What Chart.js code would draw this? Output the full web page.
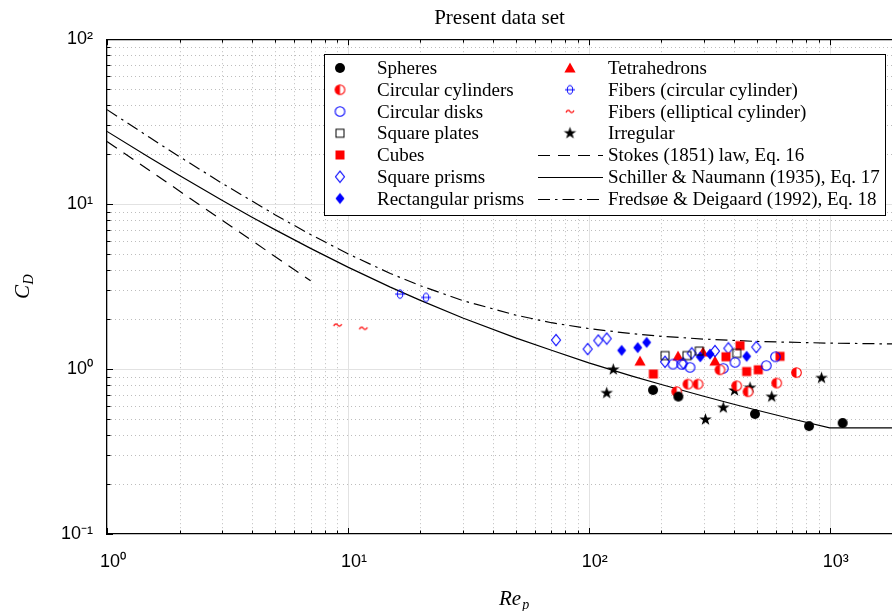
<!DOCTYPE html>
<html><head><meta charset="utf-8">
<script src="https://cdn.jsdelivr.net/npm/chart.js@4.4.0/dist/chart.umd.min.js"></script>
<style>html,body{margin:0;padding:0;background:#fff}#wrap{width:892px;height:611px;position:relative}</style>
</head><body><div id="wrap"><canvas id="c" width="892" height="611"></canvas></div>
<script>
// ---------- data ----------
const seriesNames = ['Spheres','Circular cylinders','Circular disks','Square plates','Cubes','Square prisms','Rectangular prisms',
  'Tetrahedrons','Fibers (circular cylinder)','Fibers (elliptical cylinder)','Irregular',
  'Stokes (1851) law, Eq. 16','Schiller & Naumann (1935), Eq. 17','Fredsøe & Deigaard (1992), Eq. 18'];

const spheresRe = [184.8, 235.3, 489.7, 820.7, 1132];
const spheresCD = [0.746, 0.681, 0.534, 0.451, 0.471];

const cylindersRe = [231.7, 258.1, 284.0, 350.4, 411.2, 458.1, 602.6, 728.1];
const cylindersCD = [0.731, 0.811, 0.811, 0.99, 0.792, 0.729, 0.823, 0.952];

const disksRe = [223.6, 243.0, 263.1, 361.6, 404.5, 545.6, 595.7];
const disksCD = [1.072, 1.068, 1.024, 1.01, 1.098, 1.05, 1.187];

const platesRe = [207.2, 255.6, 287.5, 411.2];
const platesCD = [1.207, 1.207, 1.285, 1.245];

const cubesRe = [185.3, 371.1, 424.3, 452.2, 505.3, 621.9];
const cubesCD = [0.933, 1.187, 1.388, 0.966, 0.99, 1.194];

const sqPrismsRe = [73.1, 98.9, 109.5, 118.7, 207.2, 246.8, 267.4, 334.1, 379.5, 495.8];
const sqPrismsCD = [1.499, 1.322, 1.489, 1.530, 1.107, 1.083, 1.245, 1.285, 1.335, 1.359];

const rectPrismsRe = [136.9, 159.6, 173.9, 290.3, 318.6, 452.2];
const rectPrismsCD = [1.298, 1.350, 1.451, 1.187, 1.233, 1.194];

const tetraRe = [163.2, 234.6, 297.9, 334.1];
const tetraCD = [1.118, 1.199, 1.268, 1.118];

const fibCircRe = [16.46, 21.10];
const fibCircCD = [2.848, 2.720];

const fibEllRe = [9.07, 11.59];
const fibEllCD = [1.848, 1.765];

const irregRe = [118.7, 126.4, 305.1, 361.6, 402.6, 466.9, 574.4, 924.7];
const irregCD = [0.715, 0.993, 0.494, 0.583, 0.741, 0.770, 0.679, 0.882];

const stokesRe = [1, 7];
const stokesCD = [24, 3.43];

const schillerRe = [1, 1.5, 2, 3, 4, 5, 7, 10, 15, 20, 30, 50, 70, 100, 150, 200, 300, 400, 500, 700, 1000, 1814];
const schillerCD = [27.6, 19.17, 14.9, 10.55, 8.33, 6.98, 5.39, 4.15, 3.14, 2.61, 2.04, 1.54, 1.30, 1.09, 0.91, 0.806, 0.684, 0.612, 0.563, 0.498, 0.44, 0.44];

const fredsoeRe = [1, 1.5, 2, 3, 5, 7, 10, 15, 20, 30, 50, 70, 100, 150, 200, 300, 500, 1000, 1814];
const fredsoeCD = [37.4, 25.4, 19.4, 13.4, 8.6, 6.54, 5.0, 3.8, 3.2, 2.6, 2.12, 1.91, 1.76, 1.64, 1.58, 1.52, 1.47, 1.436, 1.42];

const xTickValues = [1, 10, 100, 1000];
const yTickValues = [0.1, 1, 10, 100];

// ---------- marker images ----------
const RED = '#ff0000', BLUE = '#0000ff', BLACK = '#000000';
function mk(w, h, draw) {
  const c = document.createElement('canvas'); c.width = w; c.height = h;
  const g = c.getContext('2d'); draw(g, w / 2, h / 2); return c;
}
const mSphere = mk(12, 12, (g, cx, cy) => { g.beginPath(); g.arc(cx, cy, 5, 0, 2 * Math.PI); g.fillStyle = BLACK; g.fill(); });
const mHalf = mk(13, 13, (g, cx, cy) => {
  g.beginPath(); g.arc(cx, cy, 4.8, 0, 2 * Math.PI); g.fillStyle = '#fff'; g.fill();
  g.beginPath(); g.arc(cx, cy, 4.8, Math.PI / 2, Math.PI * 1.5); g.closePath(); g.fillStyle = RED; g.fill();
  g.beginPath(); g.arc(cx, cy, 4.8, 0, 2 * Math.PI); g.strokeStyle = RED; g.lineWidth = 1.1; g.stroke();
});
const mDisk = mk(13, 13, (g, cx, cy) => { g.beginPath(); g.arc(cx, cy, 4.8, 0, 2 * Math.PI); g.strokeStyle = BLUE; g.lineWidth = 1.1; g.stroke(); });
const mPlate = mk(12, 12, (g, cx, cy) => { g.strokeStyle = BLACK; g.lineWidth = 1; g.strokeRect(cx - 4, cy - 4, 8, 8); });
const mCube = mk(12, 12, (g, cx, cy) => { g.fillStyle = RED; g.fillRect(cx - 4.5, cy - 4.5, 9, 9); });
function diamond(g, cx, cy) { g.beginPath(); g.moveTo(cx, cy - 5.6); g.lineTo(cx + 4.5, cy); g.lineTo(cx, cy + 5.6); g.lineTo(cx - 4.5, cy); g.closePath(); }
const mSqPrism = mk(12, 14, (g, cx, cy) => { diamond(g, cx, cy); g.strokeStyle = BLUE; g.lineWidth = 1.1; g.stroke(); });
const mRectPrism = mk(12, 14, (g, cx, cy) => { diamond(g, cx, cy); g.fillStyle = BLUE; g.fill(); });
const mTetra = mk(14, 14, (g, cx, cy) => { g.beginPath(); g.moveTo(cx, cy - 5.5); g.lineTo(cx + 5.6, cy + 4.5); g.lineTo(cx - 5.6, cy + 4.5); g.closePath(); g.fillStyle = RED; g.fill(); });
const mFibCirc = mk(14, 12, (g, cx, cy) => {
  g.strokeStyle = BLUE; g.lineWidth = 1;
  g.beginPath(); g.ellipse(cx, cy, 2.7, 4.2, 0, 0, 2 * Math.PI); g.stroke();
  g.beginPath(); g.moveTo(cx - 5, cy); g.lineTo(cx + 5, cy); g.stroke();
});
const mFibEll = mk(12, 8, (g, cx, cy) => {
  g.strokeStyle = RED; g.lineWidth = 1.2; g.beginPath();
  g.moveTo(cx - 4, cy + 1); g.bezierCurveTo(cx - 2.6, cy - 2.2, cx - 0.6, cy - 1, cx, cy);
  g.bezierCurveTo(cx + 0.6, cy + 1, cx + 2.6, cy + 2.2, cx + 4, cy - 1); g.stroke();
});
const mStar = mk(15, 15, (g, cx, cy) => {
  g.beginPath();
  for (let i = 0; i < 10; i++) { const a = -Math.PI / 2 + i * Math.PI / 5; const r = i % 2 ? 2.6 : 6.6; g.lineTo(cx + r * Math.cos(a), cy + r * Math.sin(a)); }
  g.closePath(); g.fillStyle = BLACK; g.fill();
});

function pts(xs, ys) { return xs.map((v, i) => ({ x: v, y: ys[i] })); }
function scatterDs(i, xs, ys, img) {
  return { label: seriesNames[i], data: pts(xs, ys), pointStyle: img, pointRadius: 5, showLine: false, borderColor: 'transparent', backgroundColor: 'transparent' };
}
function lineDs(i, xs, ys, dash) {
  return { label: seriesNames[i], data: pts(xs, ys), showLine: true, pointRadius: 0, borderColor: '#000', borderWidth: 1.2, borderDash: dash, fill: false, tension: 0 };
}

const datasets = [
  scatterDs(0, spheresRe, spheresCD, mSphere),
  scatterDs(1, cylindersRe, cylindersCD, mHalf),
  scatterDs(2, disksRe, disksCD, mDisk),
  scatterDs(3, platesRe, platesCD, mPlate),
  scatterDs(4, cubesRe, cubesCD, mCube),
  scatterDs(5, sqPrismsRe, sqPrismsCD, mSqPrism),
  scatterDs(6, rectPrismsRe, rectPrismsCD, mRectPrism),
  scatterDs(7, tetraRe, tetraCD, mTetra),
  scatterDs(8, fibCircRe, fibCircCD, mFibCirc),
  scatterDs(9, fibEllRe, fibEllCD, mFibEll),
  scatterDs(10, irregRe, irregCD, mStar),
  lineDs(11, stokesRe, stokesCD, [12, 8]),
  lineDs(12, schillerRe, schillerCD, []),
  lineDs(13, fredsoeRe, fredsoeCD, [12, 5, 2.5, 5])
];

const SUP = { '0': '⁰', '1': '¹', '2': '²', '3': '³', '-': '⁻' };
function tickLabel(v, list) {
  for (const t of list) if (Math.abs(v - t) / t < 1e-6) { const e = String(Math.round(Math.log10(t))); return '10' + e.split('').map(c => SUP[c]).join(''); }
  return '';
}

// grid & inward ticks
function gridValues(min, max) {
  const out = [];
  for (let e = Math.floor(Math.log10(min)); e <= Math.ceil(Math.log10(max)); e++)
    for (let m = 1; m <= 9; m++) { const v = m * Math.pow(10, e); if (v >= min * 0.9999 && v <= max * 1.0001) out.push({ v, major: m === 1 }); }
  return out;
}
const gridPlugin = {
  id: 'logGrid',
  beforeDatasetsDraw(chart) {
    const { ctx, chartArea: a, scales: { x, y } } = chart;
    ctx.save();
    for (const g of gridValues(x.min, x.max)) {
      const px = Math.round(x.getPixelForValue(g.v)) + 0.5;
      if (px <= a.left + 1 || px >= a.right - 1) continue;
      ctx.beginPath(); ctx.setLineDash(g.major ? [] : [1, 3]);
      ctx.strokeStyle = g.major ? '#e2e2e2' : '#bdbdbd'; ctx.lineWidth = 1;
      ctx.moveTo(px, a.top); ctx.lineTo(px, a.bottom); ctx.stroke();
    }
    for (const g of gridValues(y.min, y.max)) {
      const py = Math.round(y.getPixelForValue(g.v)) + 0.5;
      if (py <= a.top + 1 || py >= a.bottom - 1) continue;
      ctx.beginPath(); ctx.setLineDash(g.major ? [] : [1, 3]);
      ctx.strokeStyle = g.major ? '#e2e2e2' : '#bdbdbd'; ctx.lineWidth = 1;
      ctx.moveTo(a.left, py); ctx.lineTo(a.right, py); ctx.stroke();
    }
    ctx.restore();
  },
  afterDatasetsDraw(chart) {
    const { ctx, chartArea: a, scales: { x, y } } = chart;
    ctx.save(); ctx.setLineDash([]); ctx.strokeStyle = '#000'; ctx.lineWidth = 1;
    for (const g of gridValues(x.min, x.max)) {
      const px = Math.round(x.getPixelForValue(g.v)) + 0.5; const L = g.major ? 6 : 3.5;
      ctx.beginPath(); ctx.moveTo(px, a.bottom); ctx.lineTo(px, a.bottom - L); ctx.moveTo(px, a.top); ctx.lineTo(px, a.top + L); ctx.stroke();
    }
    for (const g of gridValues(y.min, y.max)) {
      const py = Math.round(y.getPixelForValue(g.v)) + 0.5; const L = g.major ? 6 : 3.5;
      ctx.beginPath(); ctx.moveTo(a.left, py); ctx.lineTo(a.left + L, py); ctx.stroke();
    }
    ctx.lineWidth = 1.3; ctx.beginPath(); ctx.moveTo(a.left, a.top + 0.5); ctx.lineTo(a.right, a.top + 0.5); ctx.stroke();
    ctx.restore();
  }
};

const legendPlugin = {
  id: 'boxLegend',
  afterDatasetsDraw(chart) {
    const ctx = chart.ctx; ctx.save();
    ctx.fillStyle = '#fff'; ctx.fillRect(324.5, 54.5, 561, 161);
    ctx.strokeStyle = '#000'; ctx.lineWidth = 1; ctx.setLineDash([]); ctx.strokeRect(324.5, 54.5, 561, 161);
    ctx.font = '19px "Liberation Serif", "Times New Roman", serif'; ctx.textBaseline = 'alphabetic';
    chart.data.datasets.forEach((ds, i) => {
      const col = i < 7 ? 0 : 1, row = i < 7 ? i : i - 7;
      const yc = 68 + row * 21.75;
      const mx = col ? 570 : 340, tx = col ? 608 : 377;
      if (ds.showLine) {
        ctx.save(); ctx.setLineDash(ds.borderDash || []); ctx.strokeStyle = '#000'; ctx.lineWidth = 1.2;
        ctx.beginPath(); ctx.moveTo(538, Math.round(yc) + 0.5); ctx.lineTo(603, Math.round(yc) + 0.5); ctx.stroke(); ctx.restore();
      } else {
        const im = ds.pointStyle; ctx.drawImage(im, mx - im.width / 2, yc - im.height / 2);
      }
      ctx.fillStyle = '#000'; ctx.fillText(ds.label, tx, yc + 6);
    });
    ctx.restore();
  }
};

const axisTitlePlugin = {
  id: 'axisTitles',
  afterDraw(chart) {
    const ctx = chart.ctx; ctx.save(); ctx.fillStyle = '#000'; ctx.textBaseline = 'alphabetic';
    ctx.font = 'italic 21px "Liberation Serif", serif';
    ctx.fillText('Re', 499, 605);
    let w = ctx.measureText('Re').width;
    ctx.font = 'italic 14px "Liberation Serif", serif'; ctx.fillText('p', 499 + w + 1, 609);
    ctx.translate(29, 299); ctx.rotate(-Math.PI / 2);
    ctx.font = 'italic 21px "Liberation Serif", serif'; ctx.fillText('C', 0, 0);
    w = ctx.measureText('C').width;
    ctx.font = 'italic 14px "Liberation Serif", serif'; ctx.fillText('D', w + 0.5, 4);
    ctx.restore();
  }
};

const tickFont = { family: "'Liberation Sans', Arial, sans-serif", size: 18 };
new Chart(document.getElementById('c'), {
  type: 'scatter',
  data: { datasets },
  plugins: [gridPlugin, legendPlugin, axisTitlePlugin],
  options: {
    responsive: false, animation: false, devicePixelRatio: 1, events: [],
    layout: { autoPadding: false, padding: { left: 0, right: 0, top: 2, bottom: 0 } },
    plugins: {
      legend: { display: false }, tooltip: { enabled: false },
      title: { display: true, text: 'Present data set', fullSize: false, color: '#000',
        font: { family: "'Liberation Serif', serif", size: 21, weight: 'normal' }, padding: { top: 4, bottom: 8 } }
    },
    scales: {
      x: {
        type: 'logarithmic', min: 1, max: 1814, position: 'bottom',
        afterFit(s) { s.height = 77; s.paddingLeft = 0; s.paddingRight = 0; },
        grid: { drawOnChartArea: false, drawTicks: false },
        border: { display: true, color: '#000', width: 1.3 },
        ticks: { autoSkip: false, maxRotation: 0, minRotation: 0, padding: 17, labelOffset: 6, color: '#000', font: tickFont,
          callback: (v) => tickLabel(v, xTickValues) }
      },
      y: {
        type: 'logarithmic', min: 0.1, max: 100, position: 'left',
        afterFit(s) { s.width = 107; s.paddingTop = 0; s.paddingBottom = 0; },
        grid: { drawOnChartArea: false, drawTicks: false },
        border: { display: true, color: '#000', width: 1.3 },
        ticks: { autoSkip: false, padding: 14, color: '#000', font: tickFont,
          callback: (v) => tickLabel(v, yTickValues) }
      }
    }
  }
});
</script></body></html>
